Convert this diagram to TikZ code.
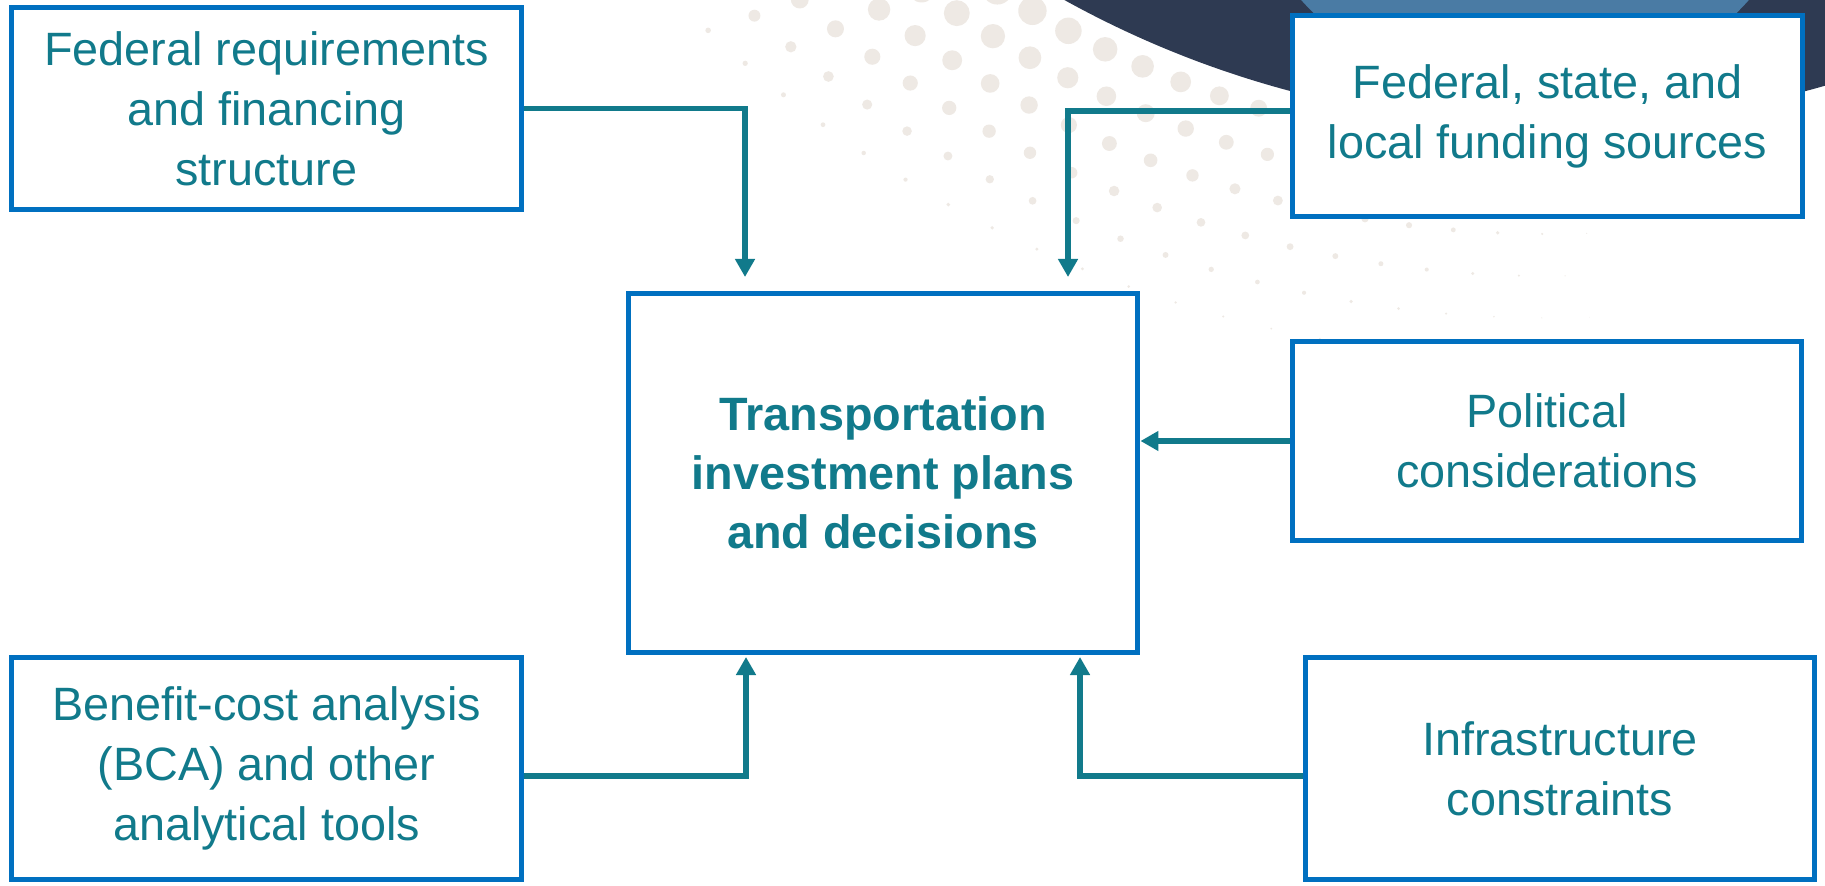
\documentclass[tikz,border=0pt]{standalone}
\usepackage{fontspec}
\setmainfont{Liberation Sans}
\usetikzlibrary{arrows.meta}

\definecolor{boxblue}{HTML}{0070C0}
\definecolor{txtteal}{HTML}{117A8B}
\definecolor{navy}{HTML}{2E3A52}
\definecolor{skyblue}{HTML}{4A7BA4}
\definecolor{dotgray}{HTML}{EEE9E4}

\tikzset{
  factor/.style={draw=boxblue, line width=1.6pt, fill=white, text=txtteal, align=center,
    inner sep=0pt, font=\fontsize{13.3}{17.1}\selectfont},
  feed/.style={draw=txtteal, line width=1.45pt, -{Triangle[width=0.19cm,length=0.18cm]}},
}

\begin{document}
\begin{tikzpicture}[x=0.01cm, y=-0.01cm]

        \useasboundingbox (0,0) rectangle (1825,886);
        \fill[white] (0,0) rectangle (1825,886);

        % dotted halo and dark disc in the top right corner
        \begin{scope}
        \clip (0,0) rectangle (1825,886);
        \foreach \k in {0,...,5} {
          \foreach \j in {0,...,20} {
            \pgfmathsetmacro\rr{1025+42*\k}
            \pgfmathsetmacro\th{88+2.3*\j+1.15*mod(\k,2)}
            \pgfmathsetmacro\dr{max(0.3, 21*(\th-86)/46*(1-(\rr-1000)/270))*0.2845}
            \fill[dotgray, shift={(1548,-875)}] (\th:\rr) circle (\dr pt);
          }
        }
        \fill[navy] (1548,-875) circle (9.99cm);
        \fill[skyblue] (1525,-200) circle (3cm);
        \end{scope}

        \node[factor, minimum width=5.10cm, minimum height=2.02cm] (fed) at (266.5,108.5) {Federal requirements\\and financing\\structure};
        \node[factor, minimum width=5.10cm, minimum height=2.01cm] (fund) at (1547.5,116) {Federal, state, and\\local funding sources};
        \node[factor, minimum width=5.09cm, minimum height=3.59cm, font=\fontsize{13.3}{16.8}\selectfont\bfseries] (plan) at (883,473) {Transportation\\investment plans\\and decisions};
        \node[factor, minimum width=5.09cm, minimum height=1.99cm] (pol) at (1547,441) {Political\\considerations};
        \node[factor, minimum width=5.10cm, minimum height=2.22cm] (bca) at (266.5,768.5) {Benefit-cost analysis\\(BCA) and other\\analytical tools};
        \node[factor, minimum width=5.09cm, minimum height=2.22cm] (infra) at (1560,768.5) {Infrastructure\\constraints};

        \coordinate (fedTip) at (745,277);
        \coordinate (fundTip) at (1068,277);
        \coordinate (bcaTip) at (746,657);
        \coordinate (infraTip) at (1080,657);

        \draw[feed] (fed.east) -| (fedTip);
        \draw[feed] ([yshift=0.05cm]fund.west) -| (fundTip);
        \draw[feed] (pol.west) -- (pol.west -| plan.east);
        \draw[feed] ([yshift=-0.075cm]bca.east) -| (bcaTip);
        \draw[feed] ([yshift=-0.075cm]infra.west) -| (infraTip);

\end{tikzpicture}
\end{document}
